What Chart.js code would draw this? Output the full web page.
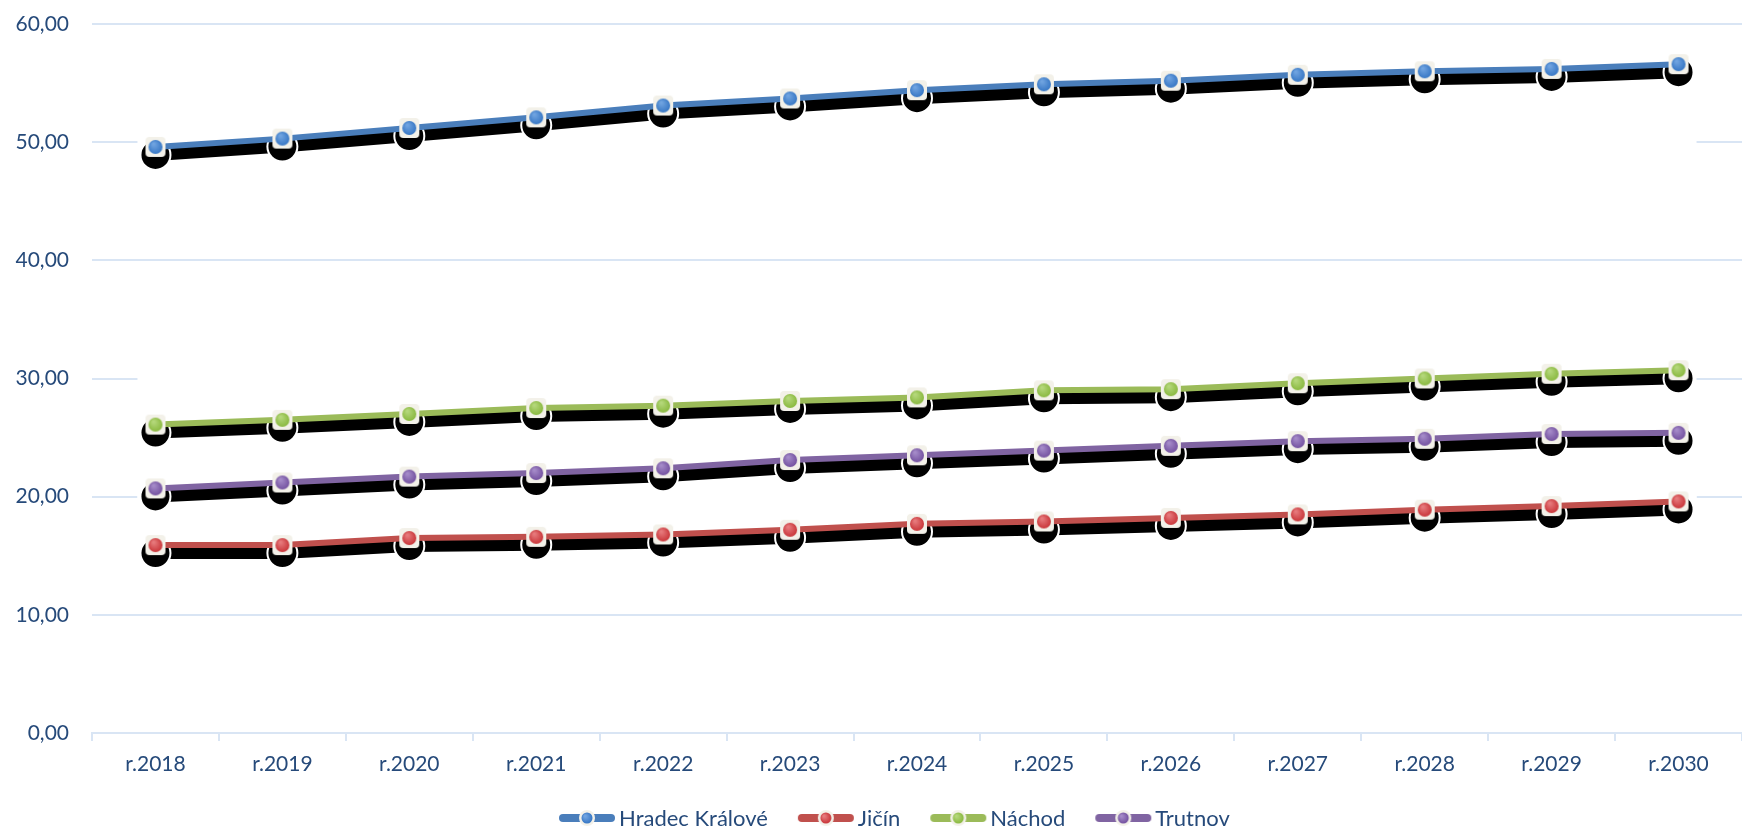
<!DOCTYPE html>
<html lang="cs">
<head>
<meta charset="utf-8">
<title>Vývoj</title>
<script src="https://cdn.jsdelivr.net/npm/chart.js@4.4.1/dist/chart.umd.min.js"></script>
<style>
    html, body { margin: 0; padding: 0; background: #fff; }
    #wrap { width: 1742px; height: 829px; }
</style>
</head>
<body>
<div id="wrap"><canvas id="chart" width="1742" height="829"></canvas></div>
<script>
const years = ["r.2018", "r.2019", "r.2020", "r.2021", "r.2022", "r.2023", "r.2024",
    "r.2025", "r.2026", "r.2027", "r.2028", "r.2029", "r.2030"];

const hradecKralove = [49.6, 50.3, 51.2, 52.1, 53.1, 53.7, 54.4, 54.9, 55.2, 55.7, 56.0, 56.2, 56.6];
const jicin = [15.9, 15.9, 16.5, 16.6, 16.8, 17.2, 17.7, 17.9, 18.2, 18.5, 18.9, 19.2, 19.6];
const nachod = [26.1, 26.5, 27.0, 27.5, 27.7, 28.1, 28.4, 29.0, 29.1, 29.6, 30.0, 30.4, 30.7];
const trutnov = [20.7, 21.2, 21.7, 22.0, 22.4, 23.1, 23.5, 23.9, 24.3, 24.7, 24.9, 25.3, 25.4];

const seriesNames = ["Hradec Králové", "Jičín", "Náchod", "Trutnov"];
const seriesValues = [hradecKralove, jicin, nachod, trutnov];

const lineColors = ["#4a7ebb", "#c0504d", "#9bbb59", "#8064a2"];
const dotColors = ["#3273c2", "#c62f33", "#86b63a", "#6f4c9c"];
const dotLights = ["#6fa3e0", "#e6797b", "#b4d77a", "#a48ac8"];

const textColor = "#264a7a";
const gridColor = "#d9e5f4";
const FONT = "Lato, 'Open Sans', sans-serif";

// point marker: light rounded square with a shaded dot
function makeMarker(i) {
    const c = document.createElement("canvas");
    c.width = 22;
    c.height = 22;
    const g = c.getContext("2d");
    g.fillStyle = "#f3f1e9";
    g.beginPath();
    g.roundRect(1, 1, 20, 20, 4);
    g.fill();
    const grad = g.createRadialGradient(9, 8, 1, 11, 11, 8);
    grad.addColorStop(0, dotLights[i]);
    grad.addColorStop(1, dotColors[i]);
    g.fillStyle = grad;
    g.beginPath();
    g.arc(11, 11, 7, 0, Math.PI * 2);
    g.fill();
    return c;
}

// line + dot sample for the legend
function makeLegendSample(i) {
    const c = document.createElement("canvas");
    c.width = 58;
    c.height = 20;
    const g = c.getContext("2d");
    g.strokeStyle = lineColors[i];
    g.lineWidth = 8;
    g.lineCap = "round";
    g.beginPath();
    g.moveTo(5, 10);
    g.lineTo(53, 10);
    g.stroke();
    g.fillStyle = "#f3f1e9";
    g.beginPath();
    g.arc(29, 10, 8, 0, Math.PI * 2);
    g.fill();
    const grad = g.createRadialGradient(27, 8, 1, 29, 10, 6);
    grad.addColorStop(0, dotLights[i]);
    grad.addColorStop(1, dotColors[i]);
    g.fillStyle = grad;
    g.beginPath();
    g.arc(29, 10, 5.5, 0, Math.PI * 2);
    g.fill();
    return c;
}

const SHADOW_DY = 8;

const shadowDatasets = seriesValues.map(vals => ({
    label: "",
    data: vals,
    isShadow: true,
    order: 2,
    borderColor: "#000",
    borderWidth: 12,
    tension: 0,
    pointStyle: "circle",
    pointRadius: 15,
    pointBackgroundColor: "#000",
    pointBorderColor: "#fff",
    pointBorderWidth: 2
}));

const lineDatasets = seriesValues.map((vals, i) => ({
    label: seriesNames[i],
    data: vals,
    order: 1,
    borderColor: lineColors[i],
    borderWidth: 6,
    tension: 0,
    pointStyle: makeMarker(i),
    pointRadius: 10,
    legendSample: makeLegendSample(i)
}));

// white backing behind each series, then a hard black drop shadow
const shadowPlugin = {
    id: "hardShadow",
    beforeDatasetsDraw(chart) {
        const ctx = chart.ctx;
        ctx.save();
        ctx.fillStyle = "#fff";
        chart.data.datasets.forEach((ds, idx) => {
            if (!ds.isShadow) return;
            const pts = chart.getDatasetMeta(idx).data;
            const xs = pts.map(p => p.x);
            const ys = pts.map(p => p.y);
            const x0 = Math.min(...xs) - 18;
            const x1 = Math.max(...xs) + 18;
            const y0 = Math.min(...ys) - 12;
            const y1 = Math.max(...ys) + SHADOW_DY + 18;
            ctx.fillRect(x0, y0, x1 - x0, y1 - y0);
        });
        ctx.restore();
    },
    beforeDatasetDraw(chart, args) {
        if (chart.data.datasets[args.index].isShadow) {
            chart.ctx.save();
            chart.ctx.translate(0, SHADOW_DY);
        }
    },
    afterDatasetDraw(chart, args) {
        if (chart.data.datasets[args.index].isShadow) {
            chart.ctx.restore();
        }
    }
};

// legend row under the axis
const legendPlugin = {
    id: "bottomLegend",
    afterDraw(chart) {
        const ctx = chart.ctx;
        let x = 558;
        const cy = 818;
        ctx.save();
        ctx.font = "22px " + FONT;
        ctx.fillStyle = textColor;
        ctx.textBaseline = "middle";
        chart.data.datasets.forEach(ds => {
            if (ds.isShadow) return;
            ctx.drawImage(ds.legendSample, x, cy - 10);
            x += 61;
            ctx.fillText(ds.label, x, cy + 1);
            x += ctx.measureText(ds.label).width + 29;
        });
        ctx.restore();
    }
};

new Chart(document.getElementById("chart"), {
    type: "line",
    data: {
        labels: years,
        datasets: [...lineDatasets, ...shadowDatasets]
    },
    options: {
        responsive: false,
        animation: false,
        events: [],
        layout: {
            autoPadding: false,
            padding: { top: 24, right: 0, bottom: 34, left: 0 }
        },
        plugins: {
            legend: { display: false },
            tooltip: { enabled: false }
        },
        scales: {
            x: {
                offset: true,
                grid: {
                    offset: true,
                    drawOnChartArea: false,
                    drawTicks: true,
                    tickLength: 8,
                    color: gridColor,
                    lineWidth: 2
                },
                border: { color: gridColor, width: 2 },
                ticks: {
                    color: textColor,
                    font: { family: FONT, size: 21 },
                    padding: 11,
                    maxRotation: 0,
                    autoSkip: false
                },
                afterFit: s => {
                    s.height = 62;
                    s.paddingLeft = 0;
                    s.paddingRight = 0;
                }
            },
            y: {
                min: 0,
                max: 60,
                grid: {
                    color: gridColor,
                    lineWidth: 2,
                    drawTicks: false
                },
                border: { display: false },
                ticks: {
                    stepSize: 10,
                    color: textColor,
                    font: { family: FONT, size: 21 },
                    padding: 23,
                    callback: v => v.toFixed(2).replace(".", ",")
                },
                afterFit: s => {
                    s.width = 92;
                    s.paddingTop = 0;
                    s.paddingBottom = 0;
                }
            }
        }
    },
    plugins: [shadowPlugin, legendPlugin]
});
</script>
</body>
</html>
